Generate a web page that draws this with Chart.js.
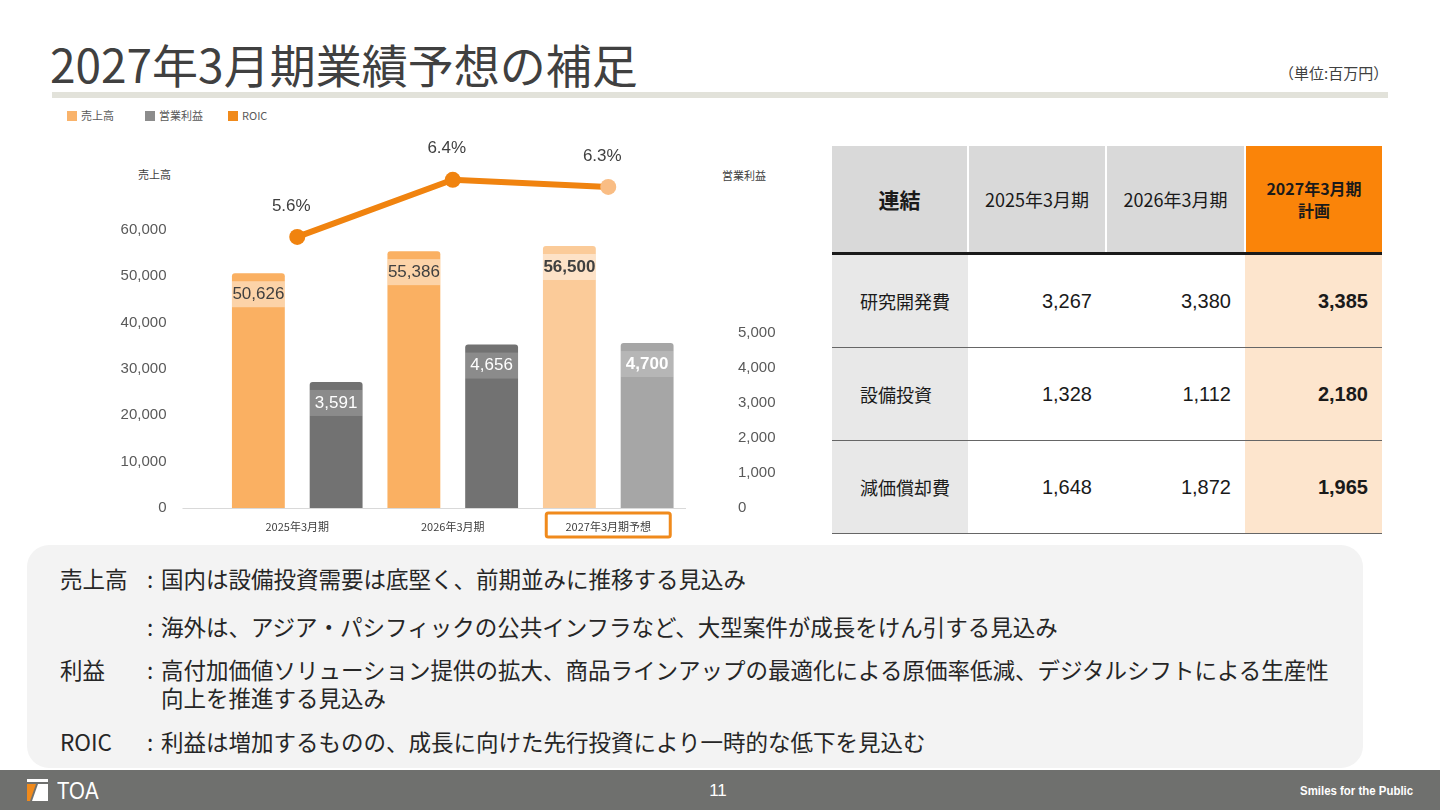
<!DOCTYPE html>
<html>
<head>
<meta charset="utf-8">
<script src="https://cdn.jsdelivr.net/npm/chart.js@4.4.1/dist/chart.umd.min.js"></script>
<style>
  body { margin: 0; width: 1440px; height: 810px; position: relative; overflow: hidden; background: #fff;
         font-family: "Liberation Sans", "Noto Sans CJK JP", sans-serif; color: #404040; }
  .abs { position: absolute; white-space: nowrap; }
  #title { left: 50px; top: 33px; font-size: 46px; line-height: 60px; font-family: "Noto Sans CJK JP", sans-serif; color: #404040; }
  #rule { left: 52px; top: 92px; width: 1336px; height: 6px; background: #E2E2DA; }
  #unit { left: 1279px; top: 63px; font-size: 15px; line-height: 20px; font-family: "Noto Sans CJK JP", sans-serif; }
  .leg { top: 108px; font-size: 11px; line-height: 14px; color: #595959; font-family: "Noto Sans CJK JP", sans-serif; }
  .leg i { display: inline-block; width: 10px; height: 10px; margin-right: 4px; vertical-align: -1px; }
  .axt { font-size: 11px; line-height: 14px; color: #404040; font-family: "Noto Sans CJK JP", sans-serif; }
  #chart { position: absolute; left: 50px; top: 100px; }
  table { position: absolute; left: 832px; top: 146px; border-collapse: collapse; table-layout: fixed; }
  td { padding: 0; font-size: 20px; color: #1a1a1a; }
  .hd td { height: 106px; background: #D9D9D9; text-align: center; font-size: 18px; font-family: "Noto Sans CJK JP", sans-serif;
           border-left: 2px solid #fff; border-bottom: 3px solid #1a1a1a; }
  .hd td:first-child { border-left: none; font-size: 21px; font-weight: bold; }
  .hd td.plan { background: #FA8409; font-weight: bold; font-size: 16px; line-height: 22px; }
  .rw td { height: 92px; border-bottom: 1px solid #666; text-align: right; padding-right: 14px; }
  .rw td:first-child { background: #E8E8E8; text-align: left; padding-left: 28px; padding-right: 0; font-size: 18px; font-family: "Noto Sans CJK JP", sans-serif; }
  .rw td.plan { background: #FDE5CD; font-weight: bold; }
  #note { left: 27px; top: 545px; width: 1336px; height: 223px; background: #F3F3F3; border-radius: 22px; }
  .ln { font-size: 22.5px; line-height: 28px; color: #262626; font-family: "Noto Sans CJK JP", sans-serif; }
  .ln b { font-weight: normal; display: inline-block; width: 14px; }
  #footer { left: 0; top: 770px; width: 1440px; height: 40px; background: #6F706E; }
  #page { left: 700px; top: 780px; width: 36px; text-align: center; font-size: 17px; line-height: 22px; color: #fff; }
  #slogan { left: 1300px; top: 783px; font-size: 13px; line-height: 16px; font-weight: bold; color: #fff;
            transform: scaleX(0.88); transform-origin: left center; }
  #logo { left: 57px; top: 778px; font-size: 24px; line-height: 26px; color: #fff; transform: scaleX(0.85); transform-origin: left center; }
  #mark { left: 27px; top: 779px; width: 21px; height: 22px; }
</style>
</head>
<body>
<div class="abs" id="title">2027年3月期業績予想の補足</div>
<div class="abs" id="unit">（単位:百万円）</div>
<div class="abs" id="rule"></div>

<div class="abs leg" style="left:67px"><i style="background:#F9B36B"></i>売上高</div>
<div class="abs leg" style="left:145px"><i style="background:#8C8C8C"></i>営業利益</div>
<div class="abs leg" style="left:228px"><i style="background:#F08A1C"></i>ROIC</div>
<div class="abs axt" style="left:138px; top:167px">売上高</div>
<div class="abs axt" style="left:722px; top:168px">営業利益</div>

<canvas id="chart" width="760" height="440"></canvas>

<table id="tbl"></table>

<div class="abs" id="note"></div>
<div class="abs ln" style="left:60px; top:564px">売上高</div>
<div class="abs ln" style="left:147px; top:564px"><b>:</b>国内は設備投資需要は底堅く、前期並みに推移する見込み</div>
<div class="abs ln" style="left:147px; top:612px"><b>:</b>海外は、アジア・パシフィックの公共インフラなど、大型案件が成長をけん引する見込み</div>
<div class="abs ln" style="left:60px; top:655px">利益</div>
<div class="abs ln" style="left:147px; top:655px"><b>:</b>高付加価値ソリューション提供の拡大、商品ラインアップの最適化による原価率低減、デジタルシフトによる生産性</div>
<div class="abs ln" style="left:161px; top:683px">向上を推進する見込み</div>
<div class="abs ln" style="left:60px; top:727px">ROIC</div>
<div class="abs ln" style="left:147px; top:727px"><b>:</b>利益は増加するものの、成長に向けた先行投資により一時的な低下を見込む</div>

<div class="abs" id="footer"></div>
<svg class="abs" id="mark" viewBox="0 0 21 22">
  <rect x="0" y="0" width="21" height="3" fill="#fff"/>
  <polygon points="0,5 9,5 3,22 0,22" fill="#F08A1C"/>
  <polygon points="11,5 21,5 21,22 5,22" fill="#fff"/>
</svg>
<div class="abs" id="logo">TOA</div>
<div class="abs" id="page">11</div>
<div class="abs" id="slogan">Smiles for the Public</div>

<script>
// chart data
const periods = ['2025年3月期', '2026年3月期', '2027年3月期予想'];
const sales = [50626, 55386, 56500];
const opIncome = [3591, 4656, 4700];
const roic = [5.6, 6.4, 6.3];
const salesTicks = [0, 10000, 20000, 30000, 40000, 50000, 60000];
const profitTicks = [0, 1000, 2000, 3000, 4000, 5000];

// table data
const tablePeriods = ['2025年3月期', '2026年3月期'];
const planLabel = ['2027年3月期', '計画'];
const rowNames = ['研究開発費', '設備投資', '減価償却費'];
const rdCost = [3267, 3380, 3385];
const capex = [1328, 1112, 2180];
const depreciation = [1648, 1872, 1965];

const fmt = v => v.toLocaleString('en-US');
const numFont = '"Liberation Sans", sans-serif';

// build the table
const tbl = document.getElementById('tbl');
const colW = [136, 138, 139, 137];
let html = '<colgroup>' + colW.map(w => `<col style="width:${w}px">`).join('') + '</colgroup>';
html += '<tr class="hd"><td>連結</td>' + tablePeriods.map(p => `<td>${p}</td>`).join('') +
        `<td class="plan">${planLabel.join('<br>')}</td></tr>`;
[rdCost, capex, depreciation].forEach((row, i) => {
    html += `<tr class="rw"><td>${rowNames[i]}</td>` +
        row.map((v, j) => `<td${j === 2 ? ' class="plan"' : ''}>${fmt(v)}</td>`).join('') + '</tr>';
});
tbl.innerHTML = html;

// bar value labels + ROIC labels
const valueLabels = {
    id: 'valueLabels',
    afterDatasetsDraw(chart) {
        const ctx = chart.ctx;
        ctx.save();
        ctx.textAlign = 'center';
        ctx.textBaseline = 'middle';
        chart.data.datasets.forEach((ds, i) => {
            const meta = chart.getDatasetMeta(i);
            meta.data.forEach((el, j) => {
                const v = ds.data[j];
                const bold = j === 2 ? 'bold ' : '';
                if (ds.type === 'line') {
                    ctx.font = '17px ' + numFont;
                    ctx.fillStyle = '#404040';
                    ctx.fillText(v.toFixed(1) + '%', el.x - 6, el.y - 31);
                } else {
                    const w = el.width;
                    ctx.fillStyle = ds.bandColor;
                    ctx.fillRect(el.x - w / 2, el.y + 8, w, 26);
                    ctx.font = bold + '17px ' + numFont;
                    ctx.fillStyle = ds.labelColor;
                    ctx.fillText(fmt(v), el.x, el.y + 21);
                }
            });
        });
        ctx.restore();
    }
};

// baseline and the box round the forecast label
const axisDecor = {
    id: 'axisDecor',
    beforeDatasetsDraw(chart) {
        const ctx = chart.ctx, a = chart.chartArea;
        const y0 = chart.scales.y.getPixelForValue(0);
        ctx.save();
        ctx.strokeStyle = '#D9D9D9';
        ctx.lineWidth = 1;
        ctx.beginPath();
        ctx.moveTo(a.left - 37, y0 + 0.5);
        ctx.lineTo(a.right, y0 + 0.5);
        ctx.stroke();
        ctx.restore();
    },
    afterDraw(chart) {
        const ctx = chart.ctx, x = chart.scales.x;
        const cx = x.getPixelForValue(2);
        ctx.save();
        ctx.strokeStyle = '#F08A1C';
        ctx.lineWidth = 3;
        ctx.beginPath();
        ctx.roundRect(cx - 62, x.top + 5, 124, 24, 2);
        ctx.stroke();
        ctx.restore();
    }
};

// y axes keep a wide gap to the plot, but must not push the plot down
const sideAxis = (width, tickValues) => ({
    afterBuildTicks: s => { s.ticks = tickValues.map(v => ({ value: v })); },
    afterFit: s => { s.width = width; s.paddingTop = 0; s.paddingBottom = 0; }
});

new Chart(document.getElementById('chart'), {
    data: {
        labels: periods,
        datasets: [
            {
                type: 'line', label: 'ROIC', data: roic, yAxisID: 'y2', order: 0,
                borderColor: '#F0830F', borderWidth: 6,
                pointRadius: 8, pointBorderWidth: 0,
                pointBackgroundColor: ['#F0830F', '#F0830F', '#F9BD84']
            },
            {
                type: 'bar', label: '売上高', data: sales, yAxisID: 'y', order: 1,
                backgroundColor: ['#FAB062', '#FAB062', '#FBCB99'],
                borderRadius: { topLeft: 3, topRight: 3 }, borderSkipped: 'start',
                barPercentage: 0.68, categoryPercentage: 1.0,
                bandColor: 'rgba(255,255,255,0.45)', labelColor: '#404040'
            },
            {
                type: 'bar', label: '営業利益', data: opIncome, yAxisID: 'y1', order: 1,
                backgroundColor: ['#727272', '#727272', '#A6A6A6'],
                borderRadius: { topLeft: 3, topRight: 3 }, borderSkipped: 'start',
                barPercentage: 0.68, categoryPercentage: 1.0,
                bandColor: 'rgba(255,255,255,0.18)', labelColor: '#ffffff'
            }
        ]
    },
    options: {
        responsive: false,
        animation: false,
        layout: { padding: { top: 37 }, autoPadding: false },
        plugins: { legend: { display: false }, tooltip: { enabled: false } },
        scales: {
            x: {
                grid: { display: false, drawTicks: false },
                border: { display: false },
                ticks: { color: '#404040', padding: 12, font: { size: 11, family: '"Noto Sans CJK JP", sans-serif' } },
                afterFit: s => { s.height = 32; }
            },
            y: {
                position: 'left', min: 0, max: 80000,
                grid: { display: false, drawTicks: false },
                border: { display: false },
                ticks: { padding: 53, color: '#595959', font: { size: 15, family: numFont }, callback: v => fmt(v) },
                ...sideAxis(169.5, salesTicks)
            },
            y1: {
                position: 'right', min: 0, max: 10570,
                grid: { display: false, drawTicks: false },
                border: { display: false },
                ticks: { padding: 52, color: '#595959', font: { size: 15, family: numFont }, callback: v => fmt(v) },
                ...sideAxis(124, profitTicks)
            },
            y2: { display: false, min: 1.8, max: 7.0 }
        }
    },
    plugins: [valueLabels, axisDecor]
});
</script>
</body>
</html>
